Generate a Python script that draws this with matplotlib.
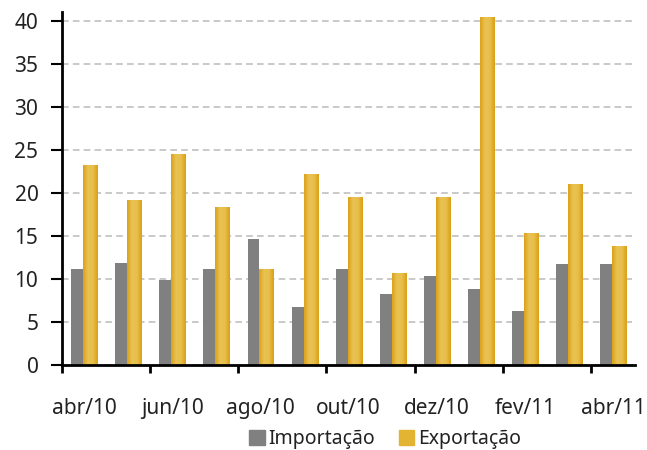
import numpy as np
import matplotlib
matplotlib.use("Agg")
import matplotlib.pyplot as plt
from matplotlib.colors import LinearSegmentedColormap
from matplotlib.patches import Patch

months = ["abr/10", "mai/10", "jun/10", "jul/10", "ago/10", "set/10", "out/10",
          "nov/10", "dez/10", "jan/11", "fev/11", "mar/11", "abr/11"]
importacao = [11.1, 11.9, 9.9, 11.2, 14.6, 6.7, 11.1, 8.2, 10.3, 8.8, 6.3, 11.7, 11.7]
exportacao = [23.2, 19.2, 24.5, 18.4, 11.1, 22.2, 19.5, 10.7, 19.5, 40.4, 15.3, 21.0, 13.8]

plt.rcParams["font.family"] = ["Noto Sans", "DejaVu Sans"]

fig = plt.figure(figsize=(6.47, 4.5), dpi=100)
ax = fig.add_axes([62 / 647, 1 - 365 / 450, 573 / 647, 353 / 450])

x = np.arange(len(months))
w_imp = 0.27
w_exp = 0.32
gold = LinearSegmentedColormap.from_list("gold", ["#dba21a", "#e9c252", "#e8bf4c", "#d9a014"])
grad = np.linspace(0, 1, 64).reshape(1, -1)

ax.bar(x + 0.48 - w_imp, importacao, width=w_imp, align="edge", color="#808080", zorder=3)
bars = ax.bar(x + 0.48, exportacao, width=w_exp, align="edge", color="#e3b431", zorder=3)
for b in bars:
    im = ax.imshow(grad, cmap=gold, aspect="auto", zorder=4,
                   extent=[b.get_x(), b.get_x() + b.get_width(), 0, b.get_height()])
    im.set_clip_path(b)

ax.set_xlim(0, len(months))
ax.set_ylim(0, 41)
ax.set_yticks(range(0, 41, 5))
ax.set_xticks(np.arange(0, len(months), 2))
ax.set_xticklabels([])
ax.set_xticks(x[::2] + 0.5, months[::2], minor=True)
ax.tick_params(axis="x", which="minor", length=0, pad=24, labelsize=15, colors="#222222")
ax.tick_params(axis="x", which="major", length=6, width=2, direction="out")
ax.tick_params(axis="y", length=8, width=1.5, labelsize=15, colors="#222222", pad=9)
ax.tick_params(axis="both", which="major", color="black")

ax.yaxis.grid(True, linestyle=(0, (4, 2.5)), color="#c0c0c0", linewidth=1.2, zorder=0)
ax.set_axisbelow(True)
for s in ["top", "right"]:
    ax.spines[s].set_visible(False)
ax.spines["left"].set_linewidth(2)
ax.spines["bottom"].set_linewidth(2)
ax.spines["bottom"].set_zorder(5)

handles = [Patch(color="#808080", label="Importação"), Patch(color="#e3b431", label="Exportação")]
fig.legend(handles=handles, loc="center", bbox_to_anchor=(385 / 647, 1 - 439 / 450), ncol=2,
           frameon=False, fontsize=14, handlelength=0.8, handleheight=0.8,
           handletextpad=0.2, columnspacing=1.2, labelcolor="#222222", borderpad=0.1)

fig.savefig("out.png", dpi=100)
